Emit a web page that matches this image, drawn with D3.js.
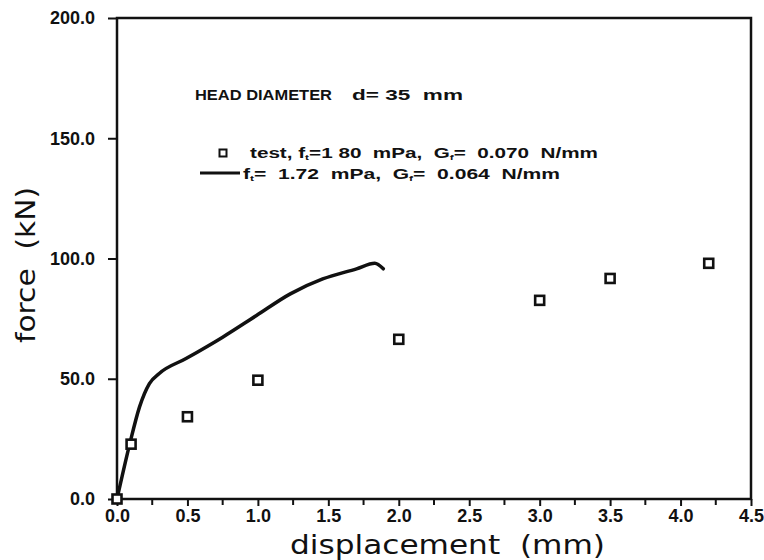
<!DOCTYPE html>
<html>
<head>
<meta charset="utf-8">
<script src="https://cdn.jsdelivr.net/npm/d3@7"></script>
<style>
  body { margin: 0; background: #fff; }
  svg { display: block; }
  text { font-family: "Liberation Sans", Arial, sans-serif; fill: #111; white-space: pre; }
  .tick-label { font-weight: bold; font-size: 18px; }
  .note { font-weight: bold; font-size: 14px; }
  .axis-title { font-family: "DejaVu Sans", sans-serif; font-size: 26px; font-weight: normal; }
</style>
</head>
<body>
<div id="container"></div>
<script>
'use strict';

const width = 764,
      height = 560,
      margin = {top: 18, right: 13, bottom: 61, left: 117};

// test points (displacement mm, force kN)
const testDisp  = [0.0, 0.1, 0.5, 1.0, 2.0, 3.0, 3.5, 4.2];
const testForce = [0.0, 22.8, 34.2, 49.4, 66.4, 82.6, 91.7, 98.0];

// model curve
const curveDisp  = [0.0, 0.09, 0.16, 0.23, 0.30, 0.49, 0.75, 0.99, 1.23, 1.46, 1.70, 1.83, 1.89];
const curveForce = [0.0, 22.8, 38.3, 48.0, 52.2, 58.4, 67.3, 76.3, 85.3, 91.5, 95.7, 98.0, 95.7];

const xTicks = [0, 0.5, 1.0, 1.5, 2.0, 2.5, 3.0, 3.5, 4.0, 4.5];
const xMinorTicks = [0.25, 0.75, 1.25, 1.75, 2.25, 2.75, 3.25, 3.75, 4.25];
const yTicks = [0, 50, 100, 150, 200];

const testData = testDisp.map((d, i) => ({x: d, y: testForce[i]}));
const curveData = curveDisp.map((d, i) => ({x: d, y: curveForce[i]}));

const svg = d3.select("#container")
  .append("svg")
  .attr("width", width)
  .attr("height", height);

const xScale = d3.scaleLinear()
  .domain([0, 4.5])
  .range([margin.left, width - margin.right]);

const yScale = d3.scaleLinear()
  .domain([0, 200])
  .range([height - margin.bottom, margin.top]);

// frame
svg.append("rect")
  .attr("x", xScale(0))
  .attr("y", yScale(200))
  .attr("width", xScale(4.5) - xScale(0))
  .attr("height", yScale(0) - yScale(200))
  .attr("fill", "none")
  .attr("stroke", "#111")
  .attr("stroke-width", 2.5);

// x axis
const xAxis = d3.axisBottom(xScale)
  .tickValues(xTicks)
  .tickFormat(d3.format(".1f"))
  .tickSize(7)
  .tickPadding(3);

const gx = svg.append("g")
  .attr("transform", `translate(0, ${yScale(0)})`)
  .call(xAxis);
gx.select(".domain").remove();
gx.selectAll(".tick line").attr("stroke", "#111").attr("stroke-width", 2);
gx.selectAll(".tick text").attr("class", "tick-label").attr("font-size", null).attr("font-family", null);

gx.selectAll(".minor")
  .data(xMinorTicks)
  .join("line")
  .attr("class", "minor")
  .attr("x1", d => xScale(d))
  .attr("x2", d => xScale(d))
  .attr("y1", 0)
  .attr("y2", 6)
  .attr("stroke", "#111")
  .attr("stroke-width", 2);

// y axis
const yAxis = d3.axisLeft(yScale)
  .tickValues(yTicks)
  .tickFormat(d3.format(".1f"))
  .tickSize(9)
  .tickPadding(13);

const gy = svg.append("g")
  .attr("transform", `translate(${xScale(0)}, 0)`)
  .call(yAxis);
gy.select(".domain").remove();
gy.selectAll(".tick line").attr("stroke", "#111").attr("stroke-width", 2);
gy.selectAll(".tick text").attr("class", "tick-label").attr("font-size", null).attr("font-family", null);

// axis titles
svg.append("text")
  .attr("class", "axis-title")
  .attr("x", 290)
  .attr("y", 554)
  .attr("textLength", 315)
  .attr("lengthAdjust", "spacingAndGlyphs")
  .text("displacement  (mm)");

svg.append("text")
  .attr("class", "axis-title")
  .attr("transform", "translate(35, 343) rotate(-90)")
  .attr("textLength", 156)
  .attr("lengthAdjust", "spacingAndGlyphs")
  .text("force  (kN)");

// model curve
const line = d3.line()
  .x(d => xScale(d.x))
  .y(d => yScale(d.y))
  .curve(d3.curveMonotoneX);

svg.append("path")
  .datum(curveData)
  .attr("d", line)
  .attr("fill", "none")
  .attr("stroke", "#111")
  .attr("stroke-width", 3.5)
  .attr("stroke-linecap", "round");

// test points
const sq = 9;
svg.selectAll(".pt")
  .data(testData)
  .join("rect")
  .attr("class", "pt")
  .attr("x", d => xScale(d.x) - sq / 2)
  .attr("y", d => yScale(d.y) - sq / 2)
  .attr("width", sq)
  .attr("height", sq)
  .attr("fill", "#fff")
  .attr("stroke", "#111")
  .attr("stroke-width", 2.6);

// annotation
svg.append("text")
  .attr("class", "note")
  .attr("x", 195)
  .attr("y", 100)
  .attr("textLength", 137)
  .attr("lengthAdjust", "spacingAndGlyphs")
  .text("HEAD DIAMETER");

svg.append("text")
  .attr("class", "note")
  .attr("x", 352)
  .attr("y", 100)
  .attr("textLength", 111)
  .attr("lengthAdjust", "spacingAndGlyphs")
  .text("d= 35  mm");

// legend
svg.append("rect")
  .attr("x", 223 - 3.5)
  .attr("y", 153 - 3.5)
  .attr("width", 7)
  .attr("height", 7)
  .attr("fill", "#fff")
  .attr("stroke", "#111")
  .attr("stroke-width", 2);

svg.append("line")
  .attr("x1", 200)
  .attr("x2", 240)
  .attr("y1", 173)
  .attr("y2", 173)
  .attr("stroke", "#111")
  .attr("stroke-width", 3);

function legendText(x, y, len, parts) {
  const t = svg.append("text")
    .attr("class", "note")
    .attr("x", x)
    .attr("y", y)
    .attr("textLength", len)
    .attr("lengthAdjust", "spacingAndGlyphs");
  parts.forEach(p => {
    const s = t.append("tspan").text(p[0]);
    if (p[1]) s.attr("font-size", 8).attr("dy", 2);
    else if (p[2]) s.attr("dy", -2);
  });
  return t;
}

legendText(250, 158, 348, [["test, f"], ["t", true], ["=1 80  mPa,  G", false, true], ["f", true], ["=  0.070  N/mm", false, true]]);
legendText(243, 179, 317, [["f"], ["t", true], ["=  1.72  mPa,  G", false, true], ["f", true], ["=  0.064  N/mm", false, true]]);
</script>
</body>
</html>
